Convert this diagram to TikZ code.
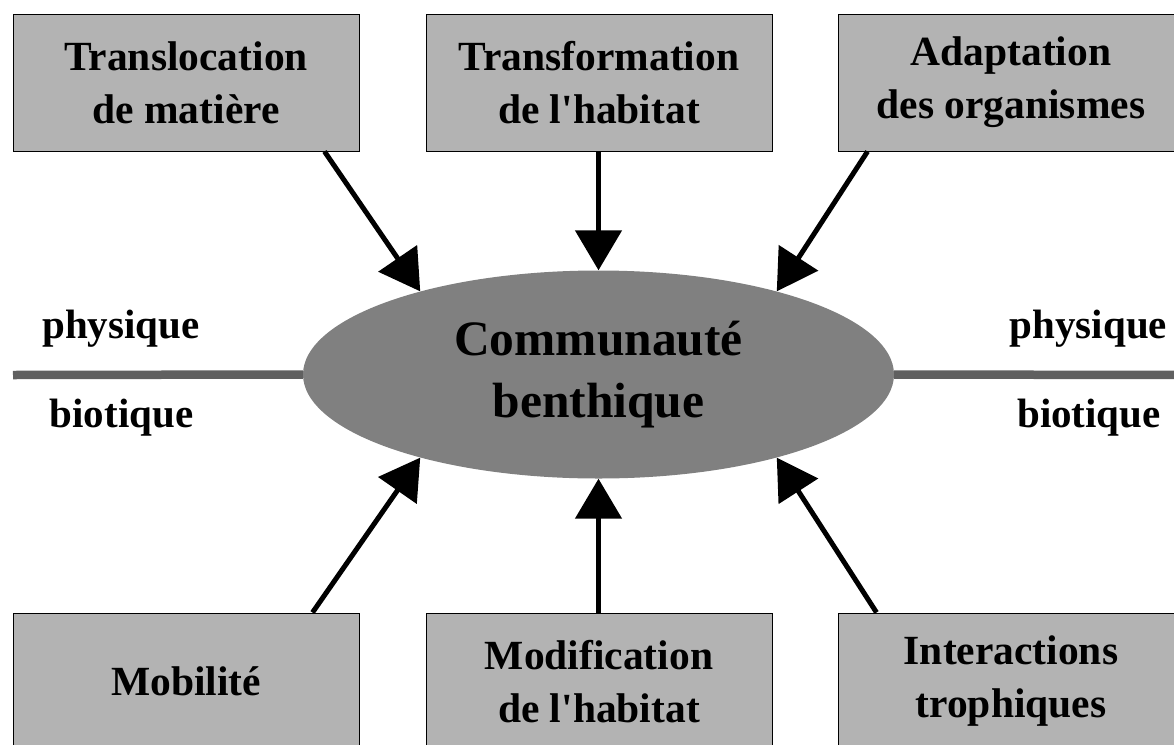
\documentclass[tikz,border=0pt]{standalone}
\usepackage{fontspec}
\setmainfont{Liberation Serif}
\usetikzlibrary{arrows.meta,shapes.geometric,calc,backgrounds}
\definecolor{boxgray}{HTML}{B3B3B3}
\definecolor{ellgray}{HTML}{808080}
\definecolor{linegray}{HTML}{606060}
\tikzset{
  factor/.style={draw=black, line width=1pt, fill=boxgray, minimum width=346pt, minimum height=137pt,
    inner sep=0pt, align=center, font=\fontsize{41.5}{53}\selectfont\bfseries},
  side/.style={font=\fontsize{41}{48}\selectfont\bfseries, inner sep=0pt, anchor=base},
  arr/.style={line width=5pt, -{Triangle[length=40pt,width=46pt]}},
  divider/.style={line width=8.5pt, draw=linegray}
}
\begin{document}
\begin{tikzpicture}[x=1pt,y=-1pt]
\useasboundingbox (0,0) rectangle (1174,744);
\clip (0,0) rectangle (1174,744);
% central ellipse
\node[ellipse, fill=ellgray, minimum width=591pt, minimum height=208pt, inner sep=0pt,
  align=center, font=\fontsize{49.5}{62}\selectfont\bfseries] (ell) at (598.5,374.5) {Communaut\'e\\benthique};
% divider lines
\coordinate (lstart) at (13,375);
\coordinate (rend) at (1180,375);
\begin{scope}[on background layer]
\draw[divider] (lstart) -- (ell.west);
\draw[divider] (ell.east) -- (rend);
\end{scope}
% labels
\node[side] (pl) at (121,338) {physique};
\node[side] (bl) at (121.5,427) {biotique};
\node[side] (pr) at (1088.5,338) {physique};
\node[side] (br) at (1089,427) {biotique};
% boxes
\node[factor] (b1) at (186,82.5) {Translocation\\de mati\`ere};
\node[factor] (b2) at (599,82.5) {Transformation\\de l\textquotesingle habitat};
\node[factor] (b3) at (1011,82.5) {Adaptation\\des organismes};
\node[factor] (b4) at (186,681.5) {Mobilit\'e};
\node[factor] (b5) at (599,681.5) {Modification\\de l\textquotesingle habitat};
\node[factor] (b6) at (1011,681.5) {Interactions\\trophiques};
% arrows
\draw[arr] ($(b1.south west)+(312,0)$) -- (ell.155.4);
\draw[arr] (b2.south -| ell.north) -- (ell.north);
\draw[arr] ($(b3.south west)+(30,0)$) -- (ell.25.8);
\draw[arr] ($(b4.north west)+(300,0)$) -- (ell.-155.4);
\draw[arr] (b5.north -| ell.south) -- (ell.south);
\draw[arr] ($(b6.north west)+(39,0)$) -- (ell.-25.8);
\end{tikzpicture}
\end{document}
